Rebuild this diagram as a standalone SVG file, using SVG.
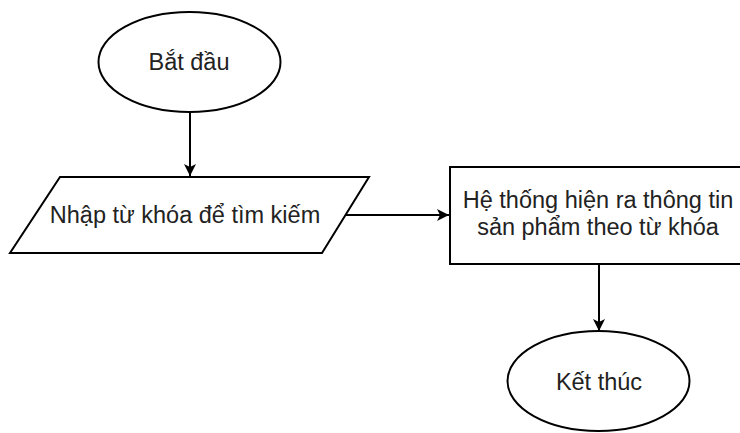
<svg xmlns="http://www.w3.org/2000/svg" width="740" height="433" viewBox="0 0 740 433">
  <style>
    .shape { fill: #ffffff; stroke: #000000; stroke-width: 2; }
    .edge { fill: none; stroke: #000000; stroke-width: 2; }
    .label { font-family: "Liberation Sans", Arial, sans-serif; font-size: 23.5px; fill: #222222; text-anchor: middle; }
  </style>
  <defs>
    <marker id="arrow" viewBox="0 0 10 10" refX="10" refY="5" markerWidth="6" markerHeight="6" markerUnits="strokeWidth" orient="auto">
      <path d="M0,0 L10,5 L0,10 L2.5,5 Z" fill="#000000"/>
    </marker>
  </defs>
  <rect width="740" height="433" fill="#ffffff"/>

  <g id="connectors">
    <line class="edge" x1="190" y1="112" x2="190" y2="176" marker-end="url(#arrow)"/>
    <line class="edge" x1="344" y1="215" x2="449" y2="215" marker-end="url(#arrow)"/>
    <line class="edge" x1="599" y1="264" x2="599" y2="331" marker-end="url(#arrow)"/>
  </g>

  <g id="start">
    <ellipse class="shape" cx="189.5" cy="62" rx="91" ry="50"/>
    <text class="label" x="189" y="70">Bắt đầu</text>
  </g>

  <g id="input">
    <polygon class="shape" points="60,177 369,177 322,253 10,253"/>
    <text class="label" x="185" y="223">Nhập từ khóa để tìm kiếm</text>
  </g>

  <g id="result">
    <rect class="shape" x="450" y="167" width="300" height="97"/>
    <text class="label" x="598" y="208">Hệ thống hiện ra thông tin</text>
    <text class="label" x="598" y="235">sản phẩm theo từ khóa</text>
  </g>

  <g id="end">
    <ellipse class="shape" cx="598.5" cy="381" rx="91" ry="50"/>
    <text class="label" x="599" y="390">Kết thúc</text>
  </g>
</svg>
